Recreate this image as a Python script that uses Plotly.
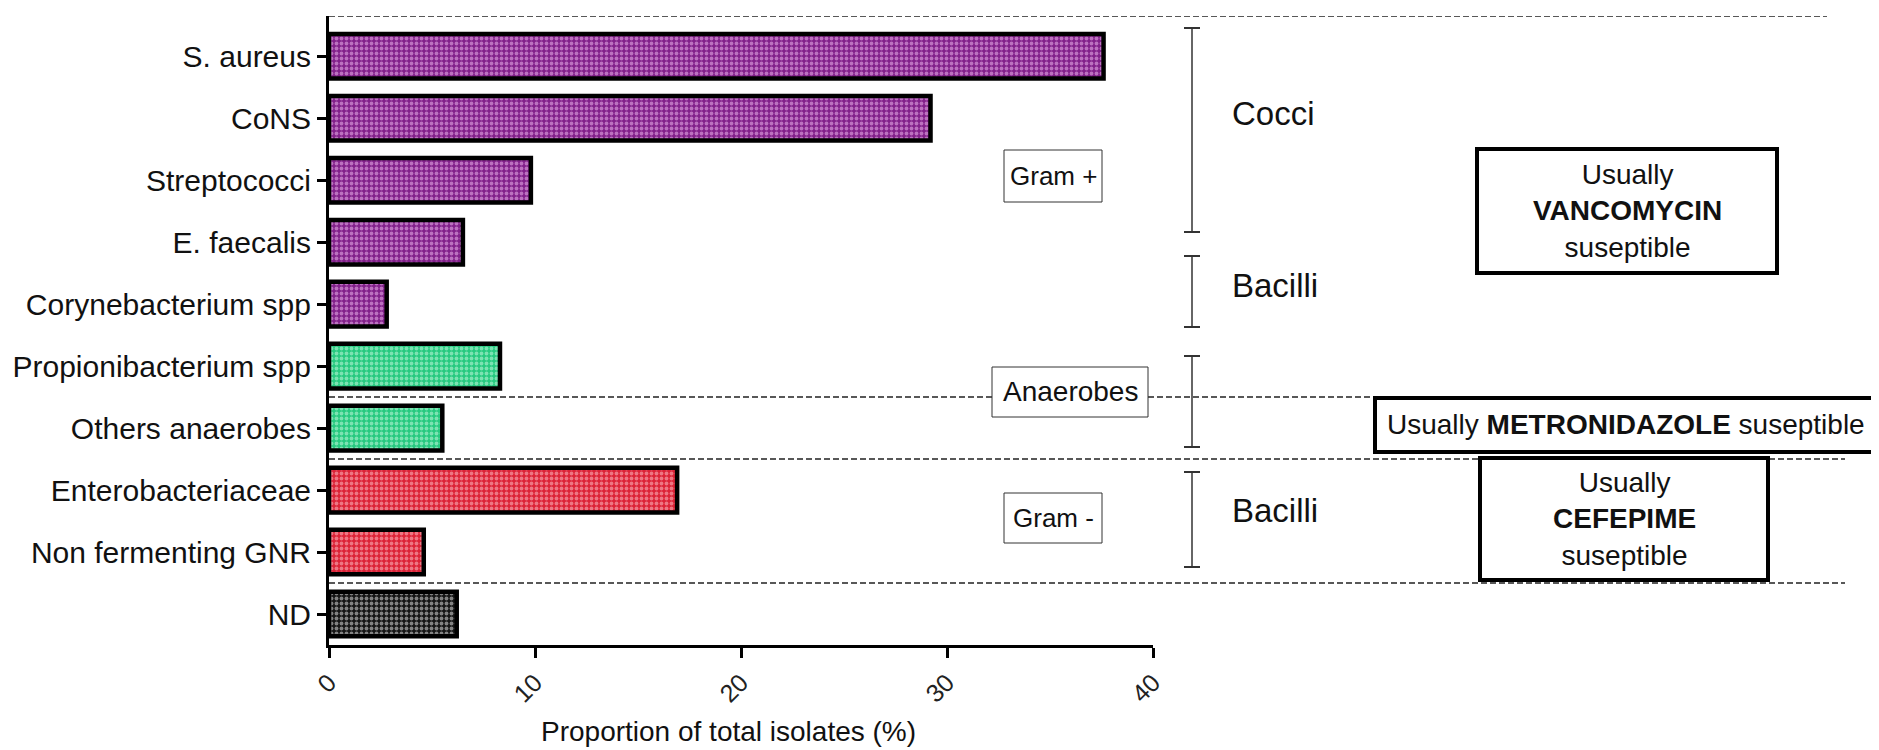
import plotly.graph_objects as go

# isolates, top to bottom
categories = ["S. aureus", "CoNS", "Streptococci", "E. faecalis", "Corynebacterium spp",
              "Propionibacterium spp", "Others anaerobes", "Enterobacteriaceae",
              "Non fermenting GNR", "ND"]
proportions = [37.6, 29.2, 9.8, 6.5, 2.8, 8.3, 5.5, 16.9, 4.6, 6.2]
groups = ["Gram +", "Gram +", "Gram +", "Gram +", "Gram +",
          "Anaerobes", "Anaerobes", "Gram -", "Gram -", "ND"]
x_ticks = [0, 10, 20, 30, 40]

# pattern colours per group (background, dots)
group_colors = {
    "Gram +": ("#82208a", "#f6c2f6"),
    "Anaerobes": ("#26c97f", "#d2fbe6"),
    "Gram -": ("#dc2236", "#ffc9cf"),
    "ND": ("#151515", "#f2f2f2"),
}

FONT = "Liberation Sans, Arial, sans-serif"
OFF = 8  # page body margin
W, H = 1879 - OFF, 750 - OFF
# plot area in screen pixels
SL, SR, ST, SB = 329, 1153, 16, 645


def px(x):
    return (x - SL) / (SR - SL)


def py(y):
    return (SB - y) / (SB - ST)


fig = go.Figure()

for g, (bg, fg) in group_colors.items():
    ys = [c for c, gg in zip(categories, groups) if gg == g]
    xs = [v for v, gg in zip(proportions, groups) if gg == g]
    fig.add_bar(x=xs, y=ys, orientation="h", width=0.72, name=g, showlegend=False,
                marker=dict(color=bg, line=dict(color="black", width=4.5),
                            pattern=dict(shape=".", bgcolor=bg, fgcolor=fg, size=5, solidity=0.45)))

shapes = []
# dashed separators
for yv, xend in [(-0.65, 1827), (5.5, 1845), (6.5, 1845), (8.5, 1845)]:
    shapes.append(dict(type="line", xref="paper", yref="y", x0=0, x1=px(xend), y0=yv, y1=yv,
                       line=dict(color="#222", width=1.5, dash="6px,3px")))

# brackets
for y0, y1 in [(28, 232), (256, 327), (356, 447), (472, 567)]:
    bx = 1192
    shapes.append(dict(type="line", xref="paper", yref="paper", x0=px(bx), x1=px(bx),
                       y0=py(y0), y1=py(y1), line=dict(color="#333", width=1.5)))
    for yy in (y0, y1):
        shapes.append(dict(type="line", xref="paper", yref="paper", x0=px(bx - 8), x1=px(bx + 8),
                           y0=py(yy), y1=py(yy), line=dict(color="#333", width=2)))

# boxes: (x0, x1, y0, y1, border width)
boxes = [(1004, 1102, 150, 202, 1), (992, 1148, 367, 417, 1), (1004, 1102, 493, 543, 1),
         (1477, 1777, 149, 273, 4), (1375, 1876, 398, 452, 4), (1480, 1768, 458, 580, 4)]
for x0, x1, y0, y1, bw in boxes:
    shapes.append(dict(type="rect", xref="paper", yref="paper", x0=px(x0), x1=px(x1),
                       y0=py(y0), y1=py(y1), fillcolor="white",
                       line=dict(color="black" if bw > 1 else "#333", width=bw)))

annotations = []
for text, cx, cy, fs in [("Gram +", 1053, 176, 26), ("Anaerobes", 1070, 392, 28),
                         ("Gram -", 1053, 518, 26)]:
    annotations.append(dict(text=text, x=px(cx), y=py(cy), xref="paper", yref="paper",
                            xanchor="center", yanchor="middle", showarrow=False,
                            font=dict(family=FONT, size=fs, color="#111")))
for text, cy in [("Cocci", 113), ("Bacilli", 285), ("Bacilli", 510)]:
    annotations.append(dict(text=text, x=px(1230), y=py(cy), xref="paper", yref="paper",
                            xanchor="left", yanchor="middle", showarrow=False,
                            font=dict(family=FONT, size=33, color="#111")))
for text, cx, cy in [("Usually<br><b>VANCOMYCIN</b><br>suseptible", 1627, 211),
                     ("Usually <b>METRONIDAZOLE</b> suseptible", 1626, 425),
                     ("Usually<br><b>CEFEPIME</b><br>suseptible", 1624, 519)]:
    annotations.append(dict(text=text, x=px(cx), y=py(cy), xref="paper", yref="paper",
                            xanchor="center", yanchor="middle", showarrow=False,
                            font=dict(family=FONT, size=28, color="#111")))
annotations.append(dict(text="Proportion of total isolates (%)", x=0.485, y=py(731),
                        xref="paper", yref="paper", xanchor="center", yanchor="middle",
                        showarrow=False, font=dict(family=FONT, size=28, color="#111")))

fig.update_layout(
    width=W, height=H,
    margin=dict(l=SL - OFF, r=W - (SR - OFF), t=ST - OFF, b=H - (SB - OFF)),
    paper_bgcolor="white", plot_bgcolor="white",
    font=dict(family=FONT, color="#111"),
    shapes=shapes, annotations=annotations,
)
fig.update_xaxes(range=[0, 40], tickvals=x_ticks, tickangle=-45, ticks="outside",
                 ticklen=10, tickwidth=3, tickcolor="black", showline=True, linewidth=3,
                 linecolor="black", showgrid=False, zeroline=False, automargin=False,
                 tickfont=dict(family=FONT, size=25, color="#222"))
fig.update_yaxes(type="category", categoryorder="array", categoryarray=categories,
                 range=[9.5, -0.65], ticks="outside", ticklen=9, tickwidth=3,
                 tickcolor="black", showline=True, linewidth=3, linecolor="black",
                 showgrid=False, zeroline=False, automargin=False,
                 tickfont=dict(family=FONT, size=30, color="#111"))

fig.write_html("out.html")
